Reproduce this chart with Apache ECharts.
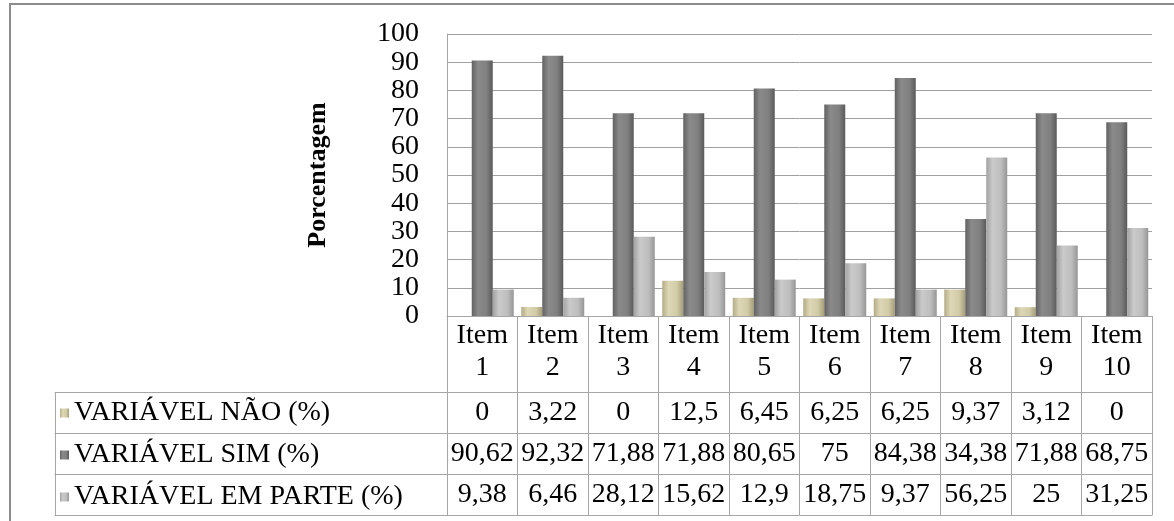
<!DOCTYPE html>
<html>
<head>
<meta charset="utf-8">
<script src="https://cdn.jsdelivr.net/npm/echarts@6/dist/echarts.min.js"></script>
<style>
  html, body { margin: 0; padding: 0; background: #fff; }
  #chart { width: 1174px; height: 521px; }
</style>
</head>
<body>
<div id="chart"></div>
<script>
// categorias e valores (%)
var categorias = ['Item 1', 'Item 2', 'Item 3', 'Item 4', 'Item 5', 'Item 6', 'Item 7', 'Item 8', 'Item 9', 'Item 10'];
var nomesSeries = ['VARIÁVEL NÃO (%)', 'VARIÁVEL SIM (%)', 'VARIÁVEL EM PARTE (%)'];
var valoresNao = [0, 3.22, 0, 12.5, 6.45, 6.25, 6.25, 9.37, 3.12, 0];
var valoresSim = [90.62, 92.32, 71.88, 71.88, 80.65, 75, 84.38, 34.38, 71.88, 68.75];
var valoresEmParte = [9.38, 6.46, 28.12, 15.62, 12.9, 18.75, 9.37, 56.25, 25, 31.25];
var ticksY = [0, 10, 20, 30, 40, 50, 60, 70, 80, 90, 100];

var fonte = '"Liberation Serif", "Times New Roman", serif';
var corLinha = '#a6a6a6';
var tamFonte = 28;

function grad(c0, c1, c2, c3) {
  return {
    type: 'linear', x: 0, y: 0, x2: 1, y2: 0,
    colorStops: [
      { offset: 0, color: c0 }, { offset: 0.3, color: c1 },
      { offset: 0.7, color: c2 }, { offset: 1, color: c3 }
    ]
  };
}
var cores = [
  grad('#b3ac86', '#ddd7b6', '#d2cba7', '#a59e78'),
  grad('#626262', '#8a8a8a', '#808080', '#5a5a5a'),
  grad('#a2a2a2', '#cacaca', '#bebebe', '#969696')
];
var valores = [valoresNao, valoresSim, valoresEmParte];

function fmt(v) { return String(v).replace('.', ','); }

// linhas da tabela de dados (eixos extras)
function eixoLinha(grid, offset, dados, tick, rotulo) {
  return {
    type: 'category', gridIndex: grid, position: 'bottom', offset: offset,
    data: dados,
    axisLine: { show: true, onZero: false, lineStyle: { color: corLinha, width: 1 } },
    axisTick: { show: tick > 0, length: tick, interval: 0, lineStyle: { color: corLinha, width: 1 } },
    axisLabel: rotulo ? {
      show: true, interval: 0, margin: 7, color: '#000',
      fontFamily: fonte, fontSize: tamFonte, lineHeight: 27,
      formatter: rotulo
    } : { show: false },
    splitLine: { show: false }
  };
}

var eixosX = [{
  type: 'category', gridIndex: 0, position: 'bottom',
  data: categorias,
  axisLine: { show: true, onZero: false, lineStyle: { color: corLinha, width: 1 } },
  axisTick: { show: true, length: 76, interval: 0, lineStyle: { color: corLinha, width: 1 } },
  axisLabel: {
    interval: 0, margin: 4, color: '#000', fontFamily: fonte,
    fontSize: tamFonte, lineHeight: 32,
    formatter: function (v) { return v.replace(' ', '\n'); }
  }
}];
for (var r = 0; r < 3; r++) {
  (function (arr) {
    eixosX.push(eixoLinha(0, 76 + r * 41, categorias, 41, function (v, i) { return fmt(arr[i]); }));
  })(valores[r]);
}
eixosX.push(eixoLinha(0, 199, categorias, 0, null));
// coluna da legenda
for (var k = 0; k < 3; k++) eixosX.push(eixoLinha(1, 76 + k * 41, [''], 41, null));
eixosX.push(eixoLinha(1, 199, [''], 0, null));

var series = nomesSeries.map(function (nome, i) {
  return {
    name: nome, type: 'bar', xAxisIndex: 0, yAxisIndex: 0,
    data: valores[i], barWidth: 21, barGap: '0%',
    itemStyle: { color: cores[i] }
  };
});

var chart = echarts.init(document.getElementById('chart'));
chart.setOption({
  backgroundColor: '#fff',
  animation: false,
  textStyle: { fontFamily: fonte },
  grid: [
    { left: 447, right: 22, top: 34, bottom: 205 },
    { left: 55, width: 392, top: 34, bottom: 205 }
  ],
  legend: {
    orient: 'vertical', left: 60, top: 399, padding: 0,
    itemGap: 14, itemWidth: 9, itemHeight: 9, icon: 'rect',
    data: nomesSeries,
    textStyle: { color: '#000', fontFamily: fonte, fontSize: tamFonte, lineHeight: 27 }
  },
  xAxis: eixosX,
  yAxis: [{
    type: 'value', gridIndex: 0, min: ticksY[0], max: ticksY[ticksY.length - 1], interval: 10,
    name: 'Porcentagem', nameLocation: 'middle', nameGap: 116, nameRotate: 90,
    nameTextStyle: { color: '#000', fontFamily: fonte, fontSize: 26, fontWeight: 'bold' },
    axisLine: { show: true, lineStyle: { color: corLinha, width: 1 } },
    axisTick: { show: false },
    axisLabel: { color: '#000', fontFamily: fonte, fontSize: tamFonte, margin: 28 },
    splitLine: { show: true, lineStyle: { color: '#a0a0a0', width: 1 } }
  }, {
    type: 'value', gridIndex: 1, show: false
  }],
  graphic: [{
    type: 'rect', silent: true,
    shape: { x: 10, y: 4, width: 1300, height: 600 },
    style: { fill: 'none', stroke: '#8c8c8c', lineWidth: 2 }
  }],
  series: series
});
</script>
</body>
</html>
